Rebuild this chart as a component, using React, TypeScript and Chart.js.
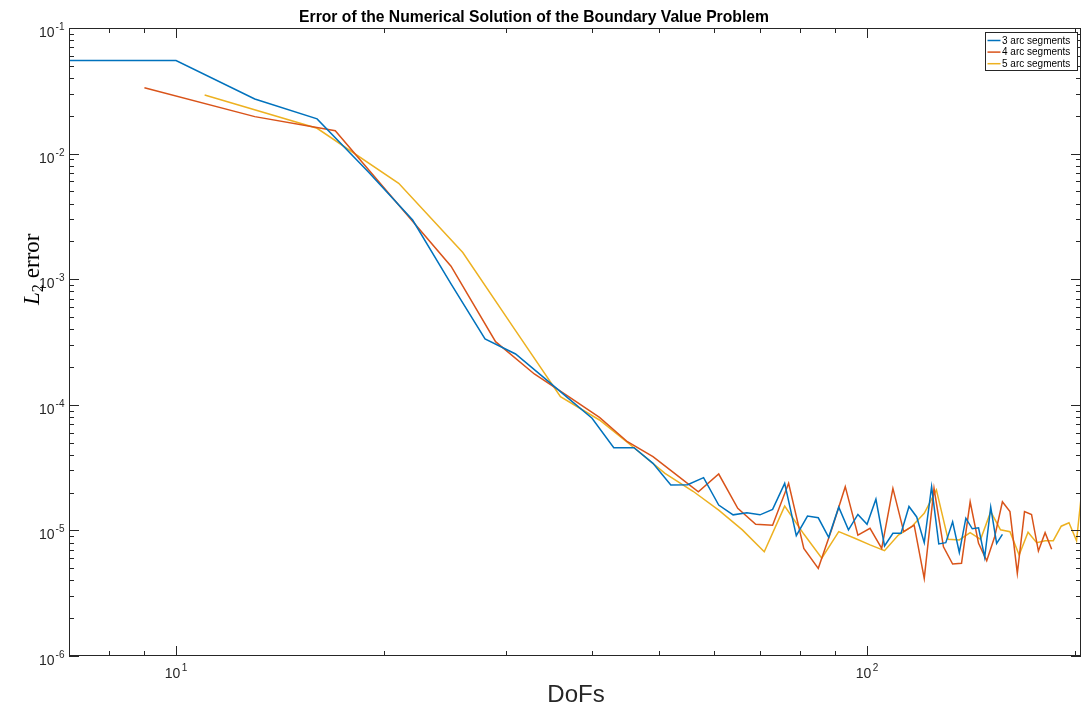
import React, { useEffect, useRef } from "react";
import { Chart, registerables } from "chart.js";

Chart.register(...registerables);

// Degrees of freedom and L2 errors for each boundary discretisation
const dofs3 = [7, 10, 13, 16, 19, 22, 25, 28, 31, 34, 37, 40, 43, 46, 49, 52, 55, 58, 61, 64, 67, 70, 73, 76, 79, 82, 85, 88, 91, 94, 97, 100, 103, 106, 109, 112, 115, 118, 121, 124, 127, 130, 133, 136, 139, 142, 145, 148, 151, 154, 157];
const err3 = [0.055, 0.055, 0.0272, 0.0189, 0.0071, 0.00296, 0.000916, 0.000334, 0.000254, 0.000166, 0.000112, 7.81e-5, 4.55e-5, 4.55e-5, 3.42e-5, 2.3e-5, 2.31e-5, 2.63e-5, 1.59e-5, 1.33e-5, 1.38e-5, 1.33e-5, 1.47e-5, 2.37e-5, 9.08e-6, 1.3e-5, 1.26e-5, 8.81e-6, 1.53e-5, 1.01e-5, 1.34e-5, 1.12e-5, 1.77e-5, 7.52e-6, 9.48e-6, 9.48e-6, 1.55e-5, 1.28e-5, 7.98e-6, 2.23e-5, 7.8e-6, 7.98e-6, 1.17e-5, 6.68e-6, 1.25e-5, 1.03e-5, 1.05e-5, 6.11e-6, 1.53e-5, 7.89e-6, 9.31e-6];

const dofs4 = [9, 13, 17, 21, 25, 29, 33, 37, 41, 45, 49, 53, 57, 61, 65, 69, 73, 77, 81, 85, 89, 93, 97, 101, 105, 109, 113, 117, 121, 125, 129, 133, 137, 141, 145, 149, 153, 157, 161, 165, 169, 173, 177, 181, 185];
const err4 = [0.0335, 0.0197, 0.0152, 0.0039, 0.00127, 0.000318, 0.000176, 0.000116, 7.95e-5, 5.08e-5, 3.86e-5, 2.77e-5, 2.03e-5, 2.81e-5, 1.5e-5, 1.12e-5, 1.1e-5, 2.37e-5, 7.19e-6, 4.99e-6, 1.04e-5, 2.23e-5, 9.18e-6, 1.04e-5, 7.19e-6, 2.16e-5, 9.77e-6, 1.1e-5, 4.15e-6, 2.16e-5, 7.41e-6, 5.4e-6, 5.47e-6, 1.69e-5, 7.89e-6, 5.74e-6, 8.91e-6, 1.69e-5, 1.41e-5, 4.55e-6, 1.41e-5, 1.34e-5, 6.85e-6, 9.59e-6, 7.07e-6];

const dofs5 = [11, 16, 21, 26, 31, 36, 41, 46, 51, 56, 61, 66, 71, 76, 81, 86, 91, 96, 101, 106, 111, 116, 121, 126, 131, 136, 141, 146, 151, 156, 161, 166, 171, 176, 181, 186, 191, 196, 201, 206];
const err5 = [0.0293, 0.0159, 0.0058, 0.00163, 0.00039, 0.000116, 7.57e-5, 4.55e-5, 2.85e-5, 2.05e-5, 1.45e-5, 1.01e-5, 6.76e-6, 1.56e-5, 9.35e-6, 6.0e-6, 9.77e-6, 8.65e-6, 7.67e-6, 6.89e-6, 9.18e-6, 1.07e-5, 1.37e-5, 2.1e-5, 8.49e-6, 8.39e-6, 9.59e-6, 8.49e-6, 1.41e-5, 1.01e-5, 9.77e-6, 6.37e-6, 9.66e-6, 7.98e-6, 8.28e-6, 8.28e-6, 1.08e-5, 1.15e-5, 8.28e-6, 3.0e-5];

const seriesLabels = ["3 arc segments", "4 arc segments", "5 arc segments"];
const seriesColors = ["#0072BD", "#D95319", "#EDB120"];

// Axis limits and tick marks (log-log)
const xLimits = [7, 204];
const yLimits = [1e-6, 1e-1];
const xMajorTicks = [10, 100];
const xMajorExponents = ["1", "2"];
const xMinorTicks = [8, 9, 20, 30, 40, 50, 60, 70, 80, 90, 200];
const yMajorTicks = [1e-1, 1e-2, 1e-3, 1e-4, 1e-5, 1e-6];
const yMajorExponents = ["-1", "-2", "-3", "-4", "-5", "-6"];
const yMinorMantissas = [2, 3, 4, 5, 6, 7, 8, 9];

const titleText = "Error of the Numerical Solution of the Boundary Value Problem";
const xAxisTitle = "DoFs";
const yAxisTitleItalic = "L";
const yAxisTitleSub = "2";
const yAxisTitleRest = "error";

const AXIS_COLOR = "#262626";
const SANS = "'Liberation Sans', Arial, Helvetica, sans-serif";
const SERIF = "'Liberation Serif', 'Times New Roman', serif";

function toPoints(xs: number[], ys: number[]) {
  return xs.map((x, i) => ({ x, y: ys[i] }));
}

const matlabAxes = {
  id: "matlabAxes",
  beforeDraw(chart: any) {
    const ctx = chart.ctx;
    ctx.save();
    ctx.fillStyle = "#ffffff";
    ctx.fillRect(0, 0, chart.width, chart.height);
    ctx.restore();
  },
  afterDraw(chart: any) {
    const ctx: CanvasRenderingContext2D = chart.ctx;
    const { left, right, top, bottom } = chart.chartArea;
    const xs = chart.scales.x;
    const ys = chart.scales.y;

    ctx.save();
    ctx.strokeStyle = AXIS_COLOR;
    ctx.lineWidth = 1;

    // axes box
    ctx.strokeRect(left + 0.5, top + 0.5, right - left - 1, bottom - top - 1);

    const major = 10;
    const minor = 5;
    ctx.beginPath();
    const xTick = (v: number, len: number) => {
      const p = Math.round(xs.getPixelForValue(v)) + 0.5;
      ctx.moveTo(p, bottom);
      ctx.lineTo(p, bottom - len);
      ctx.moveTo(p, top);
      ctx.lineTo(p, top + len);
    };
    const yTick = (v: number, len: number) => {
      const p = Math.round(ys.getPixelForValue(v)) + 0.5;
      ctx.moveTo(left, p);
      ctx.lineTo(left + len, p);
      ctx.moveTo(right, p);
      ctx.lineTo(right - len, p);
    };
    xMajorTicks.forEach((v) => xTick(v, major));
    xMinorTicks.forEach((v) => xTick(v, minor));
    yMajorTicks.forEach((v) => {
      yTick(v, major);
      if (v < yLimits[1]) {
        yMinorMantissas.forEach((m) => yTick(v * m, minor));
      }
    });
    ctx.stroke();

    // tick labels: 10 with superscript exponent
    ctx.fillStyle = AXIS_COLOR;
    const baseFont = `14px ${SANS}`;
    const supFont = `10px ${SANS}`;
    ctx.textBaseline = "alphabetic";
    ctx.textAlign = "left";

    xMajorTicks.forEach((v, i) => {
      const p = xs.getPixelForValue(v);
      ctx.font = baseFont;
      const wb = ctx.measureText("10").width;
      ctx.font = supFont;
      const ws = ctx.measureText(xMajorExponents[i]).width;
      const total = wb + 1.5 + ws;
      const x0 = p - total / 2;
      ctx.font = baseFont;
      ctx.fillText("10", x0, 678);
      ctx.font = supFont;
      ctx.fillText(xMajorExponents[i], x0 + wb + 1.5, 671);
    });

    yMajorTicks.forEach((v, i) => {
      const p = ys.getPixelForValue(v);
      ctx.font = supFont;
      const ws = ctx.measureText(yMajorExponents[i]).width;
      ctx.font = baseFont;
      const wb = ctx.measureText("10").width;
      const xr = 64.5;
      const xs0 = xr - ws;
      const xb0 = xs0 - 1 - wb;
      ctx.fillText("10", xb0, p + 9);
      ctx.font = supFont;
      ctx.fillText(yMajorExponents[i], xs0, p + 2);
    });

    // title, sized to span its measured width
    ctx.font = `bold 14px ${SANS}`;
    const tw = ctx.measureText(titleText).width;
    const titleSize = (14 * 470) / tw;
    ctx.font = `bold ${titleSize.toFixed(2)}px ${SANS}`;
    ctx.fillStyle = "#000000";
    ctx.textAlign = "center";
    ctx.fillText(titleText, 534, 21.5);

    // x-axis title
    ctx.font = `24px ${SANS}`;
    ctx.fillStyle = AXIS_COLOR;
    ctx.fillText(xAxisTitle, 576, 702);

    // y-axis title (rotated, L_2 error)
    ctx.save();
    ctx.translate(38.5, 305);
    ctx.rotate(-Math.PI / 2);
    ctx.textAlign = "left";
    ctx.fillStyle = "#000000";
    ctx.font = `italic 23px ${SERIF}`;
    ctx.fillText(yAxisTitleItalic, 0, 0);
    let cx = ctx.measureText(yAxisTitleItalic).width;
    ctx.font = `16px ${SERIF}`;
    ctx.fillText(yAxisTitleSub, cx, 4);
    cx += ctx.measureText(yAxisTitleSub).width + 6;
    ctx.font = `23px ${SERIF}`;
    ctx.fillText(yAxisTitleRest, cx, 0);
    ctx.restore();

    // legend
    const lx0 = 985.5;
    const lx1 = 1077.5;
    const ly0 = 32.5;
    const ly1 = 70.5;
    ctx.fillStyle = "#ffffff";
    ctx.fillRect(lx0, ly0, lx1 - lx0, ly1 - ly0);
    ctx.strokeStyle = AXIS_COLOR;
    ctx.lineWidth = 1;
    ctx.strokeRect(lx0, ly0, lx1 - lx0, ly1 - ly0);
    ctx.font = `10px ${SANS}`;
    ctx.textBaseline = "middle";
    ctx.textAlign = "left";
    seriesLabels.forEach((label, i) => {
      const y = 40.5 + i * 11.6;
      ctx.strokeStyle = seriesColors[i];
      ctx.lineWidth = 1.5;
      ctx.beginPath();
      ctx.moveTo(987.5, y);
      ctx.lineTo(1000.5, y);
      ctx.stroke();
      ctx.fillStyle = "#000000";
      ctx.fillText(label, 1002, y + 0.5);
    });

    ctx.restore();
  },
};

export default function App() {
  const canvasRef = useRef<HTMLCanvasElement | null>(null);

  useEffect(() => {
    const canvas = canvasRef.current;
    if (!canvas) return;
    const series = [
      toPoints(dofs3, err3),
      toPoints(dofs4, err4),
      toPoints(dofs5, err5),
    ];
    const chart = new Chart(canvas, {
      type: "line",
      data: {
        datasets: series.map((data, i) => ({
          label: seriesLabels[i],
          data,
          borderColor: seriesColors[i],
          backgroundColor: seriesColors[i],
          borderWidth: 1.5,
          pointRadius: 0,
          tension: 0,
          fill: false,
          clip: 0,
        })),
      },
      options: {
        animation: false,
        responsive: false,
        devicePixelRatio: 1,
        parsing: false,
        normalized: true,
        layout: { padding: { left: 69, top: 28, right: 1, bottom: 50 } },
        plugins: {
          legend: { display: false },
          title: { display: false },
          tooltip: { enabled: false },
        },
        events: [],
        scales: {
          x: {
            type: "logarithmic",
            min: xLimits[0],
            max: xLimits[1],
            display: false,
          },
          y: {
            type: "logarithmic",
            min: yLimits[0],
            max: yLimits[1],
            display: false,
          },
        },
      },
      plugins: [matlabAxes],
    } as any);
    return () => chart.destroy();
  }, []);

  return (
    <div style={{ position: "fixed", left: 0, top: 0, width: 1082, height: 706, background: "#fff" }}>
      <canvas ref={canvasRef} width={1082} height={706} style={{ display: "block" }} />
    </div>
  );
}
